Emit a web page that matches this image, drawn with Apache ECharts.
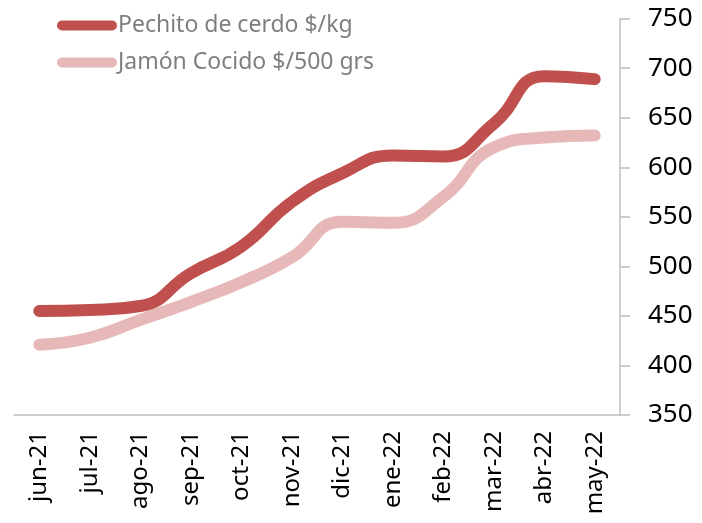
<!DOCTYPE html>
<html>
<head>
<meta charset="utf-8">
<script src="https://cdn.jsdelivr.net/npm/echarts@6/dist/echarts.min.js"></script>
<style>
  html, body { margin: 0; padding: 0; background: #fff; }
  #chart { width: 702px; height: 523px; }
</style>
</head>
<body>
<div id="chart"></div>
<script>
const months = ['jun-21', 'jul-21', 'ago-21', 'sep-21', 'oct-21', 'nov-21',
  'dic-21', 'ene-22', 'feb-22', 'mar-22', 'abr-22', 'may-22']
const pechito = [455, 456, 460, 493, 520, 565, 594, 612, 611, 644, 692, 689]
const jamon = [421, 428, 446, 464, 484, 509, 545, 544, 570, 620, 630, 632]
const yTicks = { min: 350, max: 750, step: 50 }

const pillIcon = 'path://M5,0 H55 A5,5 0 0 1 55,10 H5 A5,5 0 0 1 5,0 Z'

const chart = echarts.init(document.getElementById('chart'))

chart.setOption({
  animation: false,
  textStyle: { fontFamily: 'Noto Sans' },
  grid: { left: 14, right: 82, top: 18.7, bottom: 108 },
  legend: {
    orient: 'vertical',
    left: 57,
    top: 14,
    padding: 0,
    itemWidth: 60,
    itemHeight: 10,
    itemGap: 14,
    icon: pillIcon,
    textStyle: { color: '#7f7f7f', fontSize: 23, lineHeight: 23, padding: [0, 0, 0, -4] },
    data: ['Pechito de cerdo $/kg', 'Jamón Cocido $/500 grs']
  },
  xAxis: {
    type: 'category',
    data: months,
    boundaryGap: true,
    axisLine: { lineStyle: { color: '#bfbfbf', width: 1.5 } },
    axisTick: { length: 8, lineStyle: { color: '#bfbfbf', width: 1.5 } },
    axisLabel: { rotate: 90, fontSize: 24, color: '#000', margin: 16, interval: 0 }
  },
  yAxis: {
    type: 'value',
    position: 'right',
    min: yTicks.min,
    max: yTicks.max,
    interval: yTicks.step,
    splitLine: { show: false },
    axisLine: { show: true, lineStyle: { color: '#bfbfbf', width: 1.5 } },
    axisTick: { show: true, length: 10, lineStyle: { color: '#bfbfbf', width: 1.5 } },
    axisLabel: { fontSize: 26, color: '#000', margin: 28 }
  },
  series: [
    {
      name: 'Pechito de cerdo $/kg',
      type: 'line',
      data: pechito,
      smooth: 0.5,
      symbol: 'none',
      itemStyle: { color: '#c0504d' },
      lineStyle: { color: '#c0504d', width: 12, cap: 'round', join: 'round' },
      z: 3
    },
    {
      name: 'Jamón Cocido $/500 grs',
      type: 'line',
      data: jamon,
      smooth: 0.5,
      symbol: 'none',
      itemStyle: { color: '#e6b9b8' },
      lineStyle: { color: '#e6b9b8', width: 12, cap: 'round', join: 'round' },
      z: 2
    }
  ]
})
</script>
</body>
</html>
